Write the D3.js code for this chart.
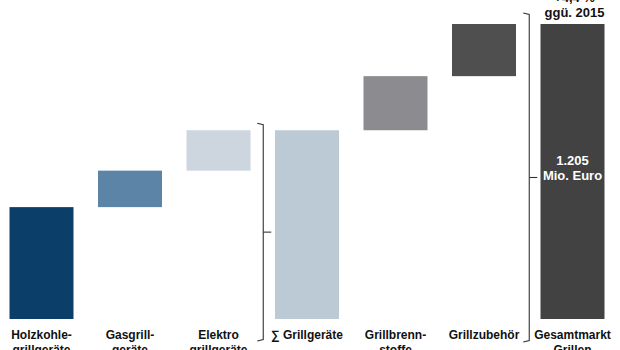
<!DOCTYPE html>
<html><head><meta charset="utf-8">
<script src="https://cdn.jsdelivr.net/npm/d3@7/dist/d3.min.js"></script>
<style>
html,body{margin:0;padding:0;background:#fff;}
svg{display:block;font-family:"Liberation Sans",Arial,sans-serif;}
</style></head>
<body><svg id="c" width="620" height="350"></svg>
<script>
const categories = ["Holzkohle","Gasgrill","Elektro","Summe","Brenn","Zubehoer","Gesamt"];
const labelLine1 = ["Holzkohle-","Gasgrill-","Elektro","∑ Grillgeräte","Grillbrenn-","Grillzubehör","Gesamtmarkt"];
const labelLine2 = ["grillgeräte","geräte","grillgeräte","","stoffe","","Grillen"];
const values = [457, 149, 165, 771, 221, 213, 1205];
const barTypes = ["delta","delta","delta","total","delta","delta","total"];
const colors = ["#0b3e68","#5b84a7","#cdd5de","#bccad5","#8c8c90","#4f4f4f","#424242"];
const totalLabel = ["1.205","Mio. Euro"];
const growthLabel = ["+4,4 %","ggü. 2015"];

const svg = d3.select("#c");
const x = d3.scaleBand().domain(categories).range([-2.75, 616.75]).paddingInner(0.2768).paddingOuter(0.1384);
const y = d3.scaleLinear().domain([0, 1205]).range([319, 24]);

// waterfall layout
let cum = 0;
const bars = categories.map((c,i)=>{
  let y0, y1;
  if (barTypes[i]==="total"){ y0 = 0; y1 = values[i]; cum = values[i]; }
  else { y0 = cum; y1 = cum + values[i]; cum = y1; }
  return {c, y0, y1, color: colors[i]};
});

svg.selectAll("rect.bar").data(bars).join("rect")
  .attr("class","bar")
  .attr("x", d=>x(d.c))
  .attr("width", x.bandwidth())
  .attr("y", d=>y(d.y1))
  .attr("height", d=>y(d.y0)-y(d.y1))
  .attr("fill", d=>d.color);

// category labels
const lab = svg.selectAll("text.cat").data(categories).join("text")
  .attr("class","cat")
  .attr("x", d=>x(d)+x.bandwidth()/2)
  .attr("y", 339)
  .attr("text-anchor","middle")
  .attr("font-size","12px").attr("font-weight","bold").attr("fill","#111");
lab.append("tspan").text((d,i)=>labelLine1[i]);
lab.append("tspan").attr("x", d=>x(d)+x.bandwidth()/2).attr("dy", 15).text((d,i)=>labelLine2[i]);

// brackets
function bracket(bx, yTop, yBot, hook){
  const mid = (yTop+yBot)/2;
  const p = d3.path();
  p.moveTo(bx-hook, yTop); p.lineTo(bx, yTop+1.5); p.lineTo(bx, yBot-1.5); p.lineTo(bx-hook, yBot);
  svg.append("path").attr("d", p.toString()).attr("fill","none").attr("stroke","#333").attr("stroke-width",1.1);
  svg.append("line").attr("x1",bx).attr("x2",bx+8).attr("y1",mid).attr("y2",mid).attr("stroke","#333").attr("stroke-width",1.1);
}
const step = x.step();
bracket(x("Summe") - (step - x.bandwidth())/2 + 0.5, y(bars[2].y1)-7, 341, 6);
bracket(x("Gesamt") - (step - x.bandwidth())/2 + 1, y(bars[5].y1)-11, 342, 6);

// total label inside last bar
const last = bars[6];
const cx = x("Gesamt")+x.bandwidth()/2;
const cy = (y(last.y0)+y(last.y1))/2;
svg.append("text").attr("x",cx).attr("y",cy-7).attr("text-anchor","middle")
  .attr("font-size","13px").attr("font-weight","bold").attr("fill","#fff").text(totalLabel[0]);
svg.append("text").attr("x",cx).attr("y",cy+8).attr("text-anchor","middle")
  .attr("font-size","13px").attr("font-weight","bold").attr("fill","#fff").text(totalLabel[1]);

// growth label above
svg.append("text").attr("x",cx+2).attr("y",2).attr("text-anchor","middle")
  .attr("font-size","13px").attr("font-weight","bold").attr("fill","#111").text(growthLabel[0]);
svg.append("text").attr("x",cx+2).attr("y",17).attr("text-anchor","middle")
  .attr("font-size","13px").attr("font-weight","bold").attr("fill","#111").text(growthLabel[1]);
</script>
</body></html>
